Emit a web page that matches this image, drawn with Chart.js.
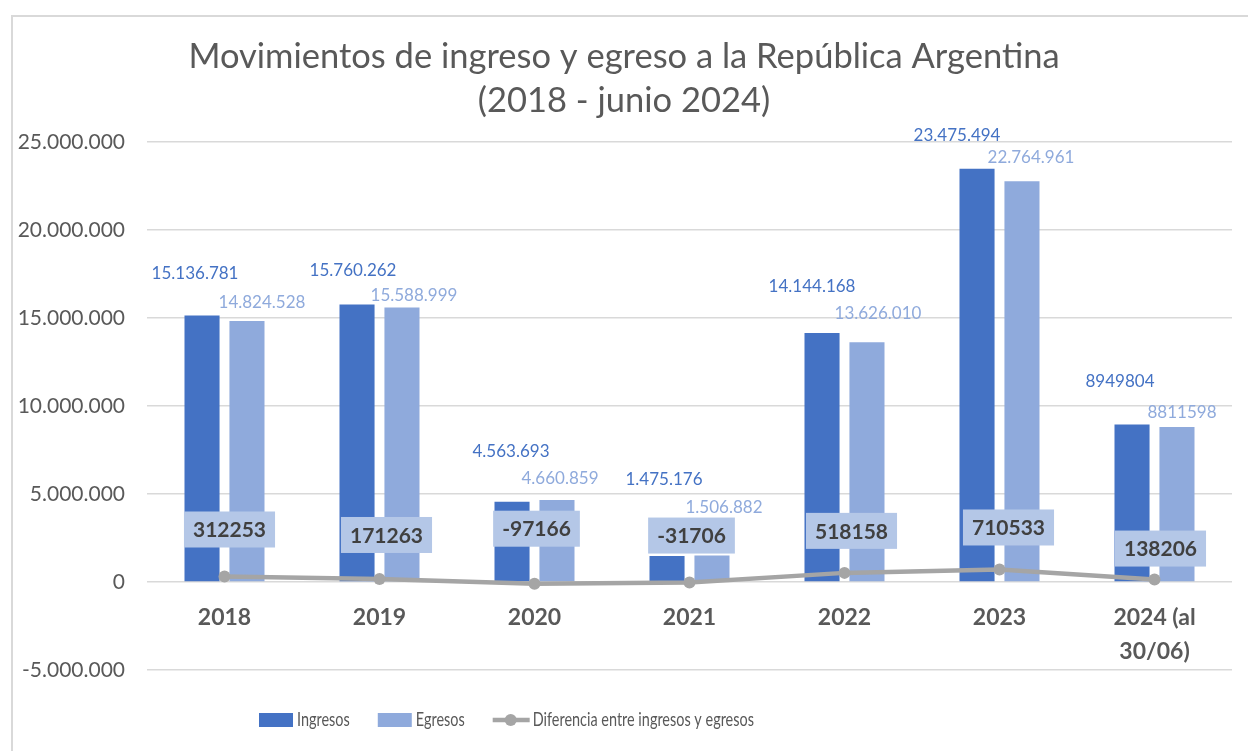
<!DOCTYPE html>
<html lang="es">
<head>
<meta charset="utf-8">
<title>Movimientos de ingreso y egreso a la República Argentina</title>
<script src="https://cdn.jsdelivr.net/npm/chart.js@4.4.1/dist/chart.umd.min.js"></script>
<style>
  html, body { margin: 0; padding: 0; background: #ffffff; }
  #wrap { width: 1248px; height: 751px; }
</style>
</head>
<body>
<div id="wrap"><canvas id="movChart" width="1248" height="751"></canvas></div>
<script>
// Datos
const anios = ['2018', '2019', '2020', '2021', '2022', '2023', ['2024 (al', '30/06)']];
const ingresos = [15136781, 15760262, 4563693, 1475176, 14144168, 23475494, 8949804];
const egresos = [14824528, 15588999, 4660859, 1506882, 13626010, 22764961, 8811598];
const diferencia = [312253, 171263, -97166, -31706, 518158, 710533, 138206];
// el último año viene sin separador de miles en el original
const formatoPlano = [false, false, false, false, false, false, true];

// Eje Y
const yMin = -5000000;
const yMax = 25000000;
const yPaso = 5000000;

// Desplazamientos de las etiquetas (movidas a mano en el original), en px respecto de cada marca
const nudgeIngresos = [[-7, -42], [-4, -34], [-1, -50], [-3, -77], [-10, -47], [-20, -33], [-12, -43]];
const nudgeEgresos = [[15, -19], [12, -12], [3, -21], [12, -48], [11, -29], [9, -24], [5, -14]];
const nudgeDif = [[5, -47], [7, -44], [2, -55], [2, -47], [7, -42], [9, -42], [6, -31]];

const FUENTE = 'Lato, "Open Sans", sans-serif';
const GRIS_TEXTO = '#595959';
const AZUL = '#4472c4';
const AZUL_CLARO = '#8faadc';
const GRIS_LINEA = '#a5a5a5';

function conPuntos(n) {
    return String(n).replace(/\B(?=(\d{3})+(?!\d))/g, '.');
}

// Marco gris del gráfico
const marco = {
    id: 'marco',
    beforeDraw(chart) {
        const ctx = chart.ctx;
        ctx.save();
        ctx.strokeStyle = '#d9d9d9';
        ctx.lineWidth = 2;
        ctx.strokeRect(12, 16, 1400, 900);
        ctx.restore();
    }
};

// Etiquetas de datos
const etiquetas = {
    id: 'etiquetas',
    afterDatasetsDraw(chart) {
        const ctx = chart.ctx;
        ctx.save();
        ctx.textAlign = 'center';
        ctx.textBaseline = 'middle';

        const barras = [
            [0, ingresos, AZUL, nudgeIngresos],
            [1, egresos, AZUL_CLARO, nudgeEgresos]
        ];
        ctx.font = '17px ' + FUENTE;
        barras.forEach(([idx, valores, color, nudge]) => {
            ctx.fillStyle = color;
            chart.getDatasetMeta(idx).data.forEach((bar, k) => {
                const txt = formatoPlano[k] ? String(valores[k]) : conPuntos(valores[k]);
                ctx.fillText(txt, bar.x + nudge[k][0], bar.y + nudge[k][1]);
            });
        });

        // cajas de la diferencia
        ctx.font = 'bold 21px ' + FUENTE;
        chart.getDatasetMeta(2).data.forEach((pt, k) => {
            const txt = String(diferencia[k]);
            const w = ctx.measureText(txt).width + 18;
            const h = 36;
            const cx = pt.x + nudgeDif[k][0];
            const cy = pt.y + nudgeDif[k][1];
            ctx.fillStyle = '#b4c7e7';
            ctx.fillRect(cx - w / 2, cy - h / 2, w, h);
            ctx.fillStyle = '#404040';
            ctx.fillText(txt, cx, cy + 1);
        });
        ctx.restore();
    }
};

// Leyenda dibujada a mano (muestra de línea con punto); el texto va algo comprimido como en el original
const leyenda = {
    id: 'leyenda',
    afterDraw(chart) {
        const ctx = chart.ctx;
        const y = chart.chartArea.bottom + 50;
        const escala = 0.76;
        let x = 259;
        ctx.save();
        ctx.font = '19px ' + FUENTE;
        ctx.textBaseline = 'middle';
        ctx.textAlign = 'left';

        chart.data.datasets.forEach(ds => {
            if (ds.type === 'bar') {
                ctx.fillStyle = ds.backgroundColor;
                ctx.fillRect(x, y - 7, 34, 14);
                x += 38;
            } else {
                ctx.strokeStyle = GRIS_LINEA;
                ctx.lineWidth = 4.5;
                ctx.beginPath();
                ctx.moveTo(x, y);
                ctx.lineTo(x + 37, y);
                ctx.stroke();
                ctx.fillStyle = GRIS_LINEA;
                ctx.beginPath();
                ctx.arc(x + 18, y, 6, 0, Math.PI * 2);
                ctx.fill();
                x += 40;
            }
            ctx.fillStyle = GRIS_TEXTO;
            ctx.save();
            ctx.translate(x, y);
            ctx.scale(escala, 1);
            ctx.fillText(ds.label, 0, 0);
            ctx.restore();
            x += ctx.measureText(ds.label).width * escala + 28;
        });
        ctx.restore();
    }
};

const ctx = document.getElementById('movChart').getContext('2d');

new Chart(ctx, {
    data: {
        labels: anios,
        datasets: [
            {
                type: 'bar',
                label: 'Ingresos',
                data: ingresos,
                backgroundColor: AZUL,
                categoryPercentage: 0.58,
                barPercentage: 0.78,
                order: 1
            },
            {
                type: 'bar',
                label: 'Egresos',
                data: egresos,
                backgroundColor: AZUL_CLARO,
                categoryPercentage: 0.58,
                barPercentage: 0.78,
                order: 1
            },
            {
                type: 'line',
                label: 'Diferencia entre ingresos y egresos',
                data: diferencia,
                borderColor: GRIS_LINEA,
                backgroundColor: GRIS_LINEA,
                borderWidth: 4.5,
                pointRadius: 6,
                pointBorderWidth: 0,
                pointBackgroundColor: GRIS_LINEA,
                tension: 0,
                order: 0
            }
        ]
    },
    options: {
        responsive: false,
        devicePixelRatio: 1,
        animation: false,
        layout: {
            padding: { top: 35, right: 16, bottom: 81, left: 16 }
        },
        plugins: {
            title: {
                display: true,
                text: ['Movimientos de ingreso y egreso a la República Argentina', '(2018 - junio 2024)'],
                color: GRIS_TEXTO,
                font: { family: FUENTE, size: 34.5, weight: 'normal', lineHeight: 1.275 },
                padding: { top: 0, bottom: 19 }
            },
            legend: { display: false },
            tooltip: { enabled: false }
        },
        scales: {
            y: {
                min: yMin,
                max: yMax,
                ticks: {
                    stepSize: yPaso,
                    color: GRIS_TEXTO,
                    font: { family: FUENTE, size: 21 },
                    padding: 22,
                    callback: v => conPuntos(v)
                },
                grid: { color: '#d9d9d9', lineWidth: 1.5, drawTicks: false },
                border: { display: false },
                afterFit(scale) {
                    scale.width = 131;
                }
            },
            x: {
                position: { y: 0 },
                grid: { display: false },
                border: { display: false },
                ticks: {
                    color: GRIS_TEXTO,
                    font: { family: FUENTE, size: 23, weight: 'bold', lineHeight: 1.48 },
                    padding: 11,
                    maxRotation: 0,
                    autoSkip: false
                }
            }
        }
    },
    plugins: [marco, etiquetas, leyenda]
});
</script>
</body>
</html>
